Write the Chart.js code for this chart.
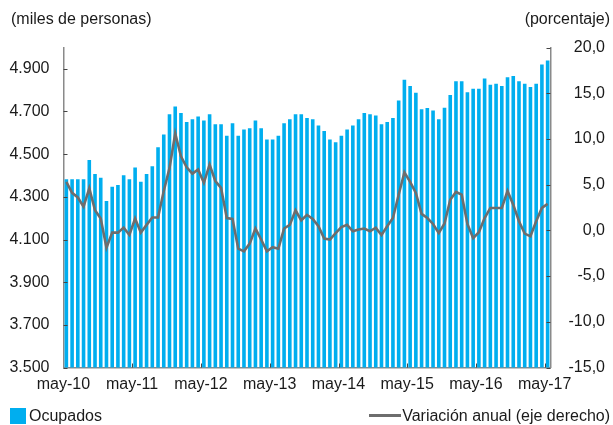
<!DOCTYPE html>
<html>
<head>
<meta charset="utf-8">
<script src="https://cdn.jsdelivr.net/npm/chart.js@4.4.0/dist/chart.umd.min.js"></script>
<style>
  body { margin: 0; background: #fff; font-family: "Liberation Sans", Arial, sans-serif; color: #1a1a1a; }
  #wrap { position: relative; width: 613px; height: 425px; }
  canvas { position: absolute; left: 0; top: 0; }
  .t { position: absolute; font-size: 16px; white-space: nowrap; line-height: 18px; }
</style>
</head>
<body>
<div id="wrap">
  <canvas id="chart" width="613" height="425"></canvas>
  <div class="t" style="left:11px;top:10px">(miles de personas)</div>
  <div class="t" style="right:3px;top:10px">(porcentaje)</div>
  <div class="t" style="left:10px;top:407px"><span style="display:inline-block;width:16px;height:16px;background:#00AEEF;vertical-align:-3px;margin-right:3px"></span>Ocupados</div>
  <div class="t" style="right:3px;top:407px"><span style="display:inline-block;width:32px;height:3px;background:#6d6d6d;vertical-align:4px;margin-right:1px"></span>Variación anual (eje derecho)</div>
</div>
<script>
// Ocupados (miles) y variacion anual (%), mensual may-10 .. may-17

var mesNombres = ['ene', 'feb', 'mar', 'abr', 'may', 'jun', 'jul', 'ago', 'sep', 'oct', 'nov', 'dic'];
var labels = [];
for (var n = 0; n < 85; n++) {
  var m = (4 + n) % 12;
  var a = 10 + Math.floor((4 + n) / 12);
  labels.push(mesNombres[m] + '-' + a);
}

var ocupados = [
  4383, 4383, 4383, 4383, 4473, 4407, 4389, 4281, 4347, 4355, 4401, 4383,
  4437, 4371, 4407, 4443, 4533, 4592, 4687, 4724, 4693, 4651, 4664, 4676,
  4658, 4687, 4640, 4640, 4586, 4645, 4586, 4616, 4622, 4658, 4622, 4569,
  4569, 4586, 4645, 4664, 4687, 4687, 4670, 4664, 4634, 4609, 4569, 4556,
  4586, 4616, 4634, 4664, 4693, 4687, 4681, 4640, 4651, 4670, 4752, 4849,
  4819, 4788, 4710, 4716, 4705, 4664, 4718, 4777, 4842, 4842, 4790, 4807,
  4807, 4855, 4825, 4830, 4819, 4860, 4866, 4842, 4830, 4815, 4830, 4920,
  4939
];

var variacion = [
  5.3, 4.1, 3.6, 2.6, 4.6, 2.2, 1.3, -1.9, -0.25, -0.25, 0.3, -0.5,
  1.3, -0.25, 0.6, 1.4, 1.4, 4.3, 6.8, 10.6, 8.1, 6.9, 6.2, 6.65,
  5.2, 7.2, 5.4, 4.65, 1.35, 1.25, -2.0, -2.3, -1.45, 0.2, -1.0, -2.3,
  -1.85, -2.0, 0.2, 0.6, 2.2, 1.1, 1.7, 1.25, 0.45, -0.9, -1.0, -0.3,
  0.35, 0.6, -0.1, 0.1, 0.2, -0.1, 0.3, -0.5, 0.45, 1.35, 3.9, 6.35,
  5.3, 4.1, 1.8, 1.35, 0.7, -0.3, 0.75, 3.35, 4.2, 3.9, 0.7, -0.85,
  -0.2, 1.35, 2.45, 2.45, 2.45, 4.3, 2.8, 1.0, -0.35, -0.65, 1.0, 2.45,
  2.9
];

var leftTicks = [3500, 3700, 3900, 4100, 4300, 4500, 4700, 4900];
var rightTicks = [-15, -10, -5, 0, 5, 10, 15, 20];

function miles(v) {
  var s = String(v);
  return s.slice(0, s.length - 3) + '.' + s.slice(-3);
}

// small tick marks pointing into the plot
var innerTicks = {
  id: 'innerTicks',
  afterDraw: function (chart) {
    var c = chart.ctx, area = chart.chartArea;
    var x = chart.scales.x, y = chart.scales.y, y1 = chart.scales.y1;
    c.save();
    c.strokeStyle = '#444';
    c.lineWidth = 1;
    c.beginPath();
    leftTicks.forEach(function (v) {
      var py = Math.round(y.getPixelForValue(v)) + 0.5;
      c.moveTo(area.left, py); c.lineTo(area.left + 4, py);
    });
    rightTicks.forEach(function (v) {
      var py = Math.round(y1.getPixelForValue(v)) + 0.5;
      c.moveTo(area.right - 4, py); c.lineTo(area.right, py);
    });
    var half = (x.getPixelForValue(1) - x.getPixelForValue(0)) / 2;
    for (var i = 12; i < labels.length; i += 12) {
      var px = Math.round(x.getPixelForValue(i) - half) + 0.5;
      c.moveTo(px, area.bottom); c.lineTo(px, area.bottom - 4);
    }
    c.stroke();
    c.restore();
  }
};

var tickFont = { family: '"Liberation Sans", Arial, sans-serif', size: 16 };

new Chart(document.getElementById('chart'), {
  type: 'bar',
  data: {
    labels: labels,
    datasets: [{
      type: 'line',
      label: 'Variación anual (eje derecho)',
      data: variacion,
      yAxisID: 'y1',
      borderColor: '#6d6d6d',
      borderWidth: 2.6,
      pointRadius: 0,
      tension: 0,
      order: 0
    }, {
      type: 'bar',
      label: 'Ocupados',
      data: ocupados,
      yAxisID: 'y',
      backgroundColor: '#00AEEF',
      categoryPercentage: 1,
      barPercentage: 0.63,
      order: 1
    }]
  },
  options: {
    responsive: false,
    animation: false,
    layout: { padding: { left: 0, right: 8, top: 47.5, bottom: 0 } },
    scales: {
      x: {
        offset: true,
        afterFit: function (s) { s.height = 57.5; },
        grid: { display: false, drawTicks: false },
        border: { color: '#8a8a8a', width: 1.5 },
        ticks: {
          autoSkip: false,
          maxRotation: 0,
          minRotation: 0,
          padding: 7,
          labelOffset: -3,
          color: '#1a1a1a',
          font: tickFont,
          callback: function (v, i) { return i % 12 === 0 ? labels[i] : ''; }
        }
      },
      y: {
        position: 'left',
        min: 3500,
        max: 5000,
        afterBuildTicks: function (s) {
          s.ticks = leftTicks.map(function (v) { return { value: v }; });
        },
        afterFit: function (s) { s.width = 63.5; },
        grid: { display: false, drawTicks: false },
        border: { color: '#8a8a8a', width: 1.5 },
        ticks: {
          padding: 14,
          color: '#1a1a1a',
          font: tickFont,
          callback: function (v) { return miles(v); }
        }
      },
      y1: {
        position: 'right',
        min: -15,
        max: 20,
        afterBuildTicks: function (s) {
          s.ticks = rightTicks.map(function (v) { return { value: v }; });
        },
        afterFit: function (s) { s.width = 54.5; },
        grid: { display: false, drawTicks: false },
        border: { color: '#8a8a8a', width: 1.5 },
        ticks: {
          padding: 20,
          crossAlign: 'far',
          color: '#1a1a1a',
          font: tickFont,
          callback: function (v) { return v.toFixed(1).replace('.', ','); }
        }
      }
    },
    plugins: {
      legend: { display: false },
      tooltip: { enabled: false }
    }
  },
  plugins: [innerTicks]
});
</script>
</body>
</html>
